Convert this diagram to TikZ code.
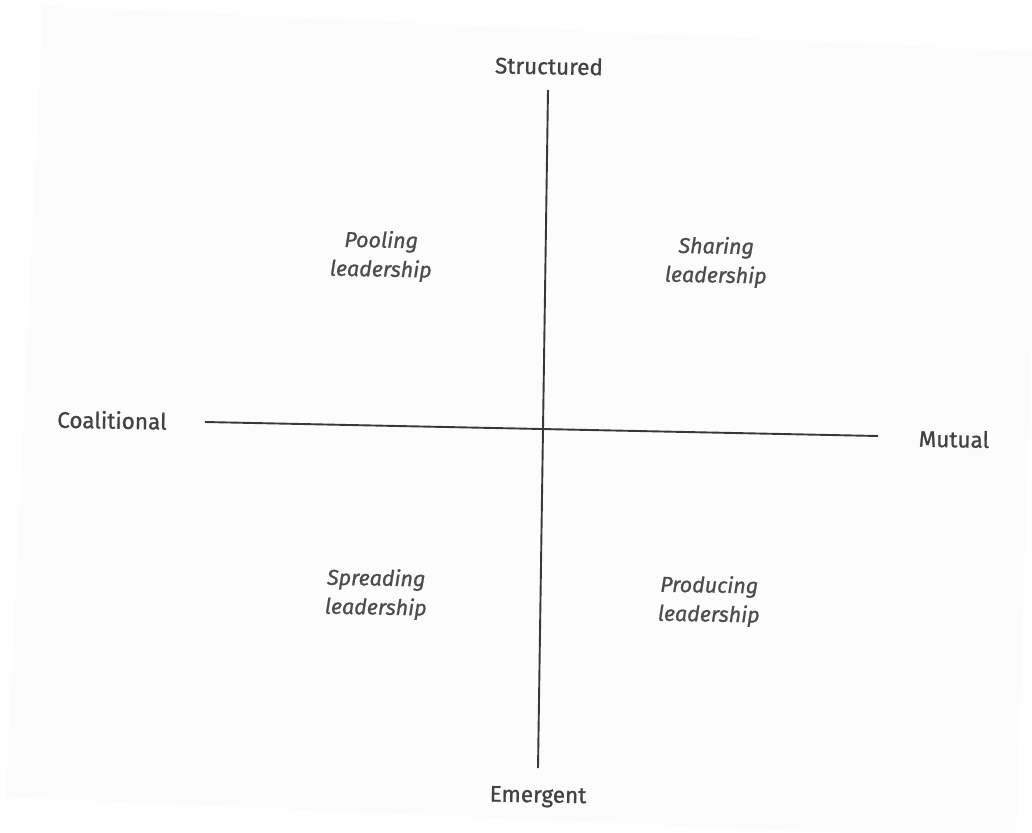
\documentclass[tikz,border=0pt]{standalone}
\usepackage{fontspec}
\setmainfont{Fira Sans}
\newfontfamily\labelfont{Fira Sans}[FakeBold=0.9]
\begin{document}
\begin{tikzpicture}[x=1pt,y=-1pt,
  axislabel/.style={font=\labelfont\fontsize{22.5}{26}\selectfont, text=black!74, rotate=-1, inner sep=0pt},
  quadrant/.style={font=\labelfont\fontsize{21.5}{29}\selectfont\itshape, text=black!70, align=center, rotate=-1, inner sep=0pt},
  axis/.style={draw=black!78, line width=1.9pt}]
  % canvas and sheet
  \useasboundingbox (0,0) rectangle (1032,832);
  \fill[white] (0,0) rectangle (1032,832);
  \fill[black!1] (43,6) -- (1040,52) -- (1016,840) -- (6,797) -- cycle;
  % axis end points
  \coordinate (top) at (548,90);
  \coordinate (bottom) at (538,768);
  \coordinate (left) at (205,422);
  \coordinate (right) at (878,436);
  \draw[axis] (top) -- (bottom);
  \draw[axis] (left) -- (right);
  % axis labels
  \node[axislabel] (structured) at (549,66) {Structured};
  \node[axislabel] (emergent) at (538,797) {Emergent};
  \node[axislabel] (coalitional) at (112,420) {Coalitional};
  \node[axislabel] (mutual) at (954,439) {Mutual};
  % quadrant labels
  \node[quadrant] (pooling) at (381,256) {Pooling\\leadership};
  \node[quadrant] (sharing) at (716,262) {Sharing\\leadership};
  \node[quadrant] (spreading) at (376,594) {Spreading\\leadership};
  \node[quadrant] (producing) at (709,601) {Producing\\leadership};
\end{tikzpicture}
\end{document}
